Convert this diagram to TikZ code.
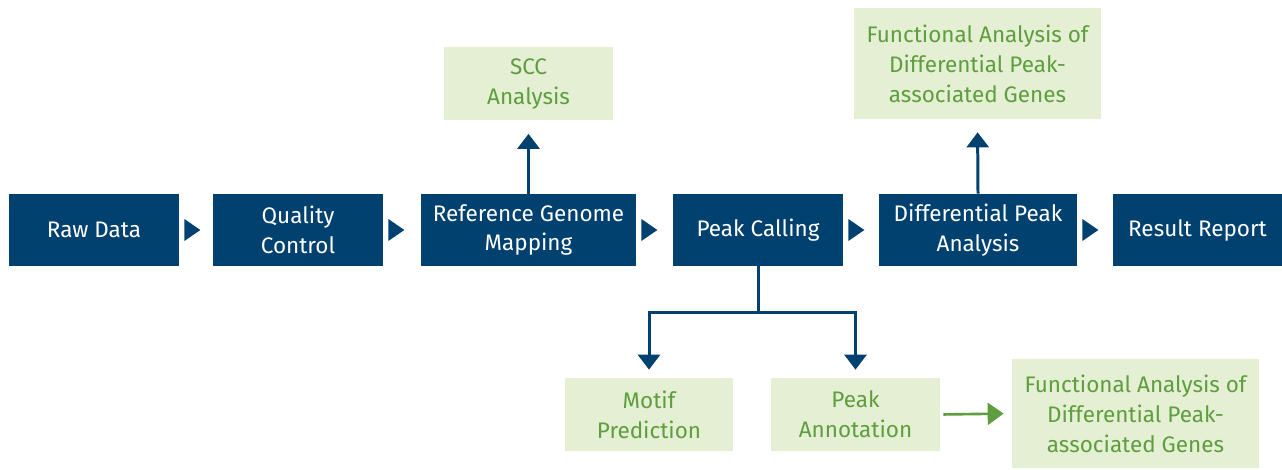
\documentclass[tikz,border=0pt]{standalone}
\usepackage{fontspec}
\setmainfont{Fira Sans}
\usetikzlibrary{calc, arrows.meta, positioning}
\definecolor{DeepBlue}{RGB}{0, 65, 112}
\definecolor{PaleGreen}{RGB}{228, 239, 212}
\definecolor{LeafGreen}{RGB}{94, 158, 62}

\tikzset{
    mainbox/.style={fill=DeepBlue, text=white, minimum height=1.44cm, align=center,
        inner sep=0pt, font=\fontsize{12.8}{17}\selectfont},
    subbox/.style={fill=PaleGreen, text=LeafGreen, minimum height=1.46cm, align=center,
        inner sep=0pt, font=\fontsize{12.8}{17}\selectfont},
    bluearrow/.style={DeepBlue, line width=1.7pt, -{Triangle[length=0.3cm, width=0.44cm]}},
    greenarrow/.style={LeafGreen, line width=1.5pt, -{Triangle[length=0.32cm, width=0.44cm]}}
}

\begin{document}
\begin{tikzpicture}
    \useasboundingbox (0,0) rectangle (25.64,9.38);

    % Hauptablauf
    \node[mainbox, minimum width=3.4cm] (raw) at (1.88,4.78) {Raw Data};
    \node[mainbox, minimum width=3.4cm] (qc) at (5.96,4.78) {Quality\\Control};
    \node[mainbox, minimum width=4.3cm] (map) at (10.57,4.78) {Reference Genome\\Mapping};
    \node[mainbox, minimum width=3.4cm] (peak) at (15.16,4.78) {Peak Calling};
    \node[mainbox, minimum width=3.96cm] (diff) at (19.56,4.78) {Differential Peak\\Analysis};
    \node[mainbox, minimum width=3.38cm] (report) at (23.95,4.78) {Result Report};

    \foreach \a in {raw, qc, map, peak, diff}
        \fill[DeepBlue] ($(\a.east)+(0.1,0.22)$) -- ++(0.32,-0.22) -- ++(-0.32,-0.22) -- cycle;

    % Nebenanalysen
    \node[subbox, minimum width=3.38cm] (scc) at (10.57,7.7) {SCC\\Analysis};
    \node[subbox, minimum width=4.94cm, minimum height=2.22cm] (functop) at (19.55,8.11)
        {Functional Analysis of\\Differential Peak-\\associated Genes};
    \node[subbox, minimum width=3.36cm] (motif) at (12.98,1.09) {Motif\\Prediction};
    \node[subbox, minimum width=3.38cm] (annot) at (17.11,1.09) {Peak\\Annotation};
    \node[subbox, minimum width=4.94cm, minimum height=2.18cm] (funcbot) at (22.71,1.11)
        {Functional Analysis of\\Differential Peak-\\associated Genes};

    % Pfeile
    \draw[bluearrow, shorten >=0.26cm] (map.north) -- (scc.south);
    \draw[bluearrow, shorten >=0.26cm] (diff.north) -- (functop.south);
    \coordinate (split) at ($(peak.south)+(0,-0.92)$);
    \draw[DeepBlue, line width=1.7pt] (peak.south) -- (split);
    \draw[bluearrow, shorten >=0.16cm] (split) -| (motif.north);
    \draw[bluearrow, shorten >=0.16cm] (split) -| (annot.north);
    \draw[greenarrow, shorten <=0.06cm, shorten >=0.16cm] (annot.east) -- (funcbot.west);
\end{tikzpicture}
\end{document}
